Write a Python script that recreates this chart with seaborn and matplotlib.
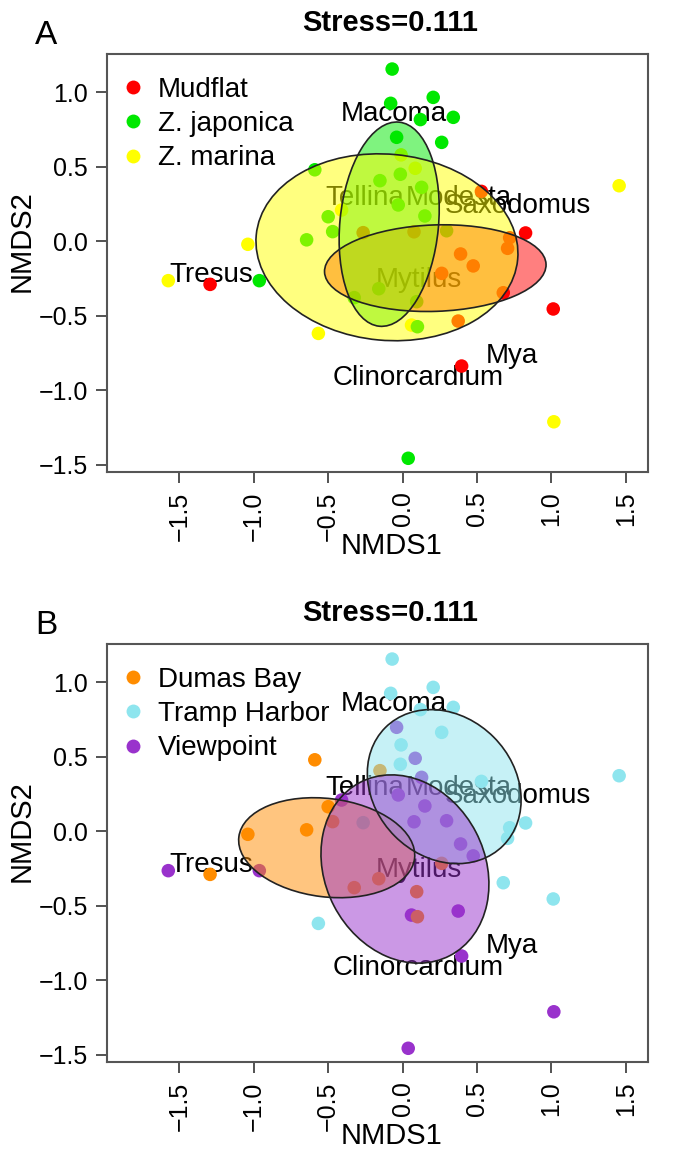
import matplotlib
matplotlib.use("Agg")
import matplotlib.pyplot as plt
from matplotlib.patches import Ellipse
from matplotlib.lines import Line2D
import numpy as np
import pandas as pd
import seaborn as sns

# NMDS site scores (one row per sample)
nmds1 = [-0.59, -0.50, -0.41, -0.47, -0.265, -0.645, -1.04, -0.07, -0.08, 0.206,
         0.341, 0.12, 0.263, -0.04, -0.01, 0.085, -0.015, -0.152, 0.128, 0.53,
         -0.029, 0.15, 1.456, 0.827, 0.077, 0.296, 0.72, 0.706, 0.39, 0.475,
         0.263, -0.16, -0.325, 0.095, 0.677, 1.013, 0.06, 0.10, 0.374, 0.397,
         1.017, 0.038, -1.575, -1.294, -0.963, -0.566]
nmds2 = [0.48, 0.165, 0.21, 0.065, 0.058, 0.01, -0.02, 1.156, 0.926, 0.966,
         0.832, 0.817, 0.664, 0.698, 0.58, 0.49, 0.45, 0.407, 0.362, 0.335,
         0.244, 0.17, 0.373, 0.056, 0.064, 0.071, 0.024, -0.047, -0.085, -0.165,
         -0.215, -0.318, -0.378, -0.405, -0.345, -0.454, -0.562, -0.573, -0.535, -0.837,
         -1.211, -1.456, -0.264, -0.289, -0.264, -0.618]
habitat = ["Z. japonica", "Z. japonica", "Z. marina", "Z. japonica", "Mudflat",
           "Z. japonica", "Z. marina", "Z. japonica", "Z. japonica", "Z. japonica",
           "Z. japonica", "Z. japonica", "Z. japonica", "Z. japonica", "Z. marina",
           "Z. marina", "Z. japonica", "Z. japonica", "Z. japonica", "Mudflat",
           "Z. japonica", "Z. japonica", "Z. marina", "Mudflat", "Mudflat",
           "Z. japonica", "Mudflat", "Mudflat", "Mudflat", "Mudflat",
           "Mudflat", "Z. japonica", "Z. japonica", "Z. japonica", "Mudflat",
           "Mudflat", "Z. marina", "Z. japonica", "Mudflat", "Mudflat",
           "Z. marina", "Z. japonica", "Z. marina", "Mudflat", "Z. japonica",
           "Z. marina"]
site = ["Dumas Bay", "Dumas Bay", "Viewpoint", "Dumas Bay", "Tramp Harbor",
        "Dumas Bay", "Dumas Bay", "Tramp Harbor", "Tramp Harbor", "Tramp Harbor",
        "Tramp Harbor", "Tramp Harbor", "Tramp Harbor", "Viewpoint", "Tramp Harbor",
        "Viewpoint", "Tramp Harbor", "Dumas Bay", "Viewpoint", "Tramp Harbor",
        "Viewpoint", "Viewpoint", "Tramp Harbor", "Tramp Harbor", "Viewpoint",
        "Viewpoint", "Tramp Harbor", "Tramp Harbor", "Viewpoint", "Viewpoint",
        "Dumas Bay", "Dumas Bay", "Dumas Bay", "Dumas Bay", "Tramp Harbor",
        "Tramp Harbor", "Viewpoint", "Dumas Bay", "Viewpoint", "Viewpoint",
        "Viewpoint", "Viewpoint", "Viewpoint", "Dumas Bay", "Viewpoint",
        "Tramp Harbor"]

habitat_levels = ["Mudflat", "Z. japonica", "Z. marina"]
habitat_colors = ["#FF0000", "#00E800", "#FFFF00"]
site_levels = ["Dumas Bay", "Tramp Harbor", "Viewpoint"]
site_colors = ["#FF8C00", "#8EE5EE", "#9932CC"]

# species scores
species = ["Macoma", "Tellina", "Modesta", "Saxodomus", "Mytilus",
           "Tresus", "Mya", "Clinorcardium"]
species_x = [-0.06, -0.253, 0.379, 0.772, 0.11, -1.288, 0.735, 0.103]
species_y = [0.854, 0.294, 0.294, 0.237, -0.26, -0.226, -0.77, -0.918]

# group ellipses: centre, full axis lengths, rotation (degrees)
habitat_ell_x = [0.22, -0.09, -0.105]
habitat_ell_y = [-0.18, 0.115, -0.04]
habitat_ell_w = [1.49, 1.376, 1.765]
habitat_ell_h = [0.58, 0.663, 1.249]
habitat_ell_ang = [2.0, 84.5, -5.3]
site_ell_x = [-0.51, 0.28, 0.016]
site_ell_y = [-0.11, 0.30, -0.253]
site_ell_w = [1.19, 1.12, 1.31]
site_ell_h = [0.66, 0.94, 1.075]
site_ell_ang = [-7.0, -45.0, -62.5]

x_ticks = [-1.5, -1.0, -0.5, 0.0, 0.5, 1.0, 1.5]
x_ticklabels = ["\u22121.5", "\u22121.0", "\u22120.5", "0.0", "0.5", "1.0", "1.5"]
y_ticks = [-1.5, -1.0, -0.5, 0.0, 0.5, 1.0]
y_ticklabels = ["\u22121.5", "\u22121.0", "\u22120.5", "0.0", "0.5", "1.0"]

stress_label = "Stress=0.111"

df = pd.DataFrame({"NMDS1": nmds1, "NMDS2": nmds2,
                   "habitat": habitat, "site": site})

sns.set_theme(style="white")
plt.rcParams["font.family"] = ["Liberation Sans", "DejaVu Sans"]
plt.rcParams["axes.unicode_minus"] = True
for key in ("text.color", "axes.labelcolor", "xtick.color", "ytick.color"):
    plt.rcParams[key] = "black"

W, H = 673, 1152
fig = plt.figure(figsize=(W / 100, H / 100), dpi=100)

narrow = ["Liberation Sans Narrow", "Liberation Sans", "DejaVu Sans"]


def panel(top_px, group_col, levels, colors, ex, ey, ew, eh, ea, letter):
    left_px, right_px, bottom_px = 107.3, 648.0, top_px + 418
    ax = fig.add_axes([left_px / W, 1 - bottom_px / H,
                       (right_px - left_px) / W, (bottom_px - top_px) / H])
    ax.set_xlim(-1.985, 1.65)
    ax.set_ylim(-1.548, 1.257)

    # species labels
    for name, sx, sy in zip(species, species_x, species_y):
        ax.text(sx, sy, name, ha="center", va="center", fontsize=20,
                color="black", zorder=2)

    sns.scatterplot(data=df, x="NMDS1", y="NMDS2", hue=group_col,
                    hue_order=levels, palette=colors, s=95, linewidth=0,
                    legend=False, ax=ax, zorder=3)

    for cx, cy, w, h, a, col in zip(ex, ey, ew, eh, ea, colors):
        ax.add_patch(Ellipse((cx, cy), w, h, angle=a, facecolor=col,
                             alpha=0.5, edgecolor="none", zorder=4))
        ax.add_patch(Ellipse((cx, cy), w, h, angle=a, facecolor="none",
                             edgecolor="#222222", linewidth=1.2, zorder=5))

    handles = [Line2D([], [], marker="o", linestyle="none", markersize=10,
                      markerfacecolor=c, markeredgewidth=0) for c in colors]
    leg = ax.legend(handles, levels, loc="upper left", frameon=False,
                    fontsize=20, handletextpad=0.3, labelspacing=0.3,
                    borderaxespad=0.0, handlelength=1.2,
                    bbox_to_anchor=(-0.004, 0.972))
    leg.set_zorder(6)

    ax.set_xticks(x_ticks)
    ax.set_xticklabels(x_ticklabels, rotation=90, fontsize=18)
    ax.set_yticks(y_ticks)
    ax.set_yticklabels(y_ticklabels, fontsize=18)
    ax.tick_params(axis="both", direction="out", length=8, width=1.3,
                   color="#444444", labelcolor="black", pad=6,
                   bottom=True, left=True)
    ax.set_xlabel("")
    ax.set_ylabel("")
    for sp in ax.spines.values():
        sp.set_visible(True)
        sp.set_color("#555555")
        sp.set_linewidth(1.5)

    fig.text(390 / W, 1 - (top_px - 31) / H, stress_label, ha="center",
             va="center", fontsize=21, fontweight="bold", family=narrow)
    fig.text(46 / W, 1 - (top_px - 19) / H, letter, ha="center",
             va="center", fontsize=24)
    fig.text(391 / W, 1 - (top_px + 492) / H, "NMDS1", ha="center",
             va="center", fontsize=21, family=narrow)
    fig.text(22 / W, 1 - (top_px + 187) / H, "NMDS2", ha="center",
             va="center", fontsize=21, rotation=90, family=narrow)
    return ax


panel(54, "habitat", habitat_levels, habitat_colors, habitat_ell_x,
      habitat_ell_y, habitat_ell_w, habitat_ell_h, habitat_ell_ang, "A")
panel(644, "site", site_levels, site_colors, site_ell_x, site_ell_y,
      site_ell_w, site_ell_h, site_ell_ang, "B")

fig.savefig("out.png", dpi=100, facecolor="white")
